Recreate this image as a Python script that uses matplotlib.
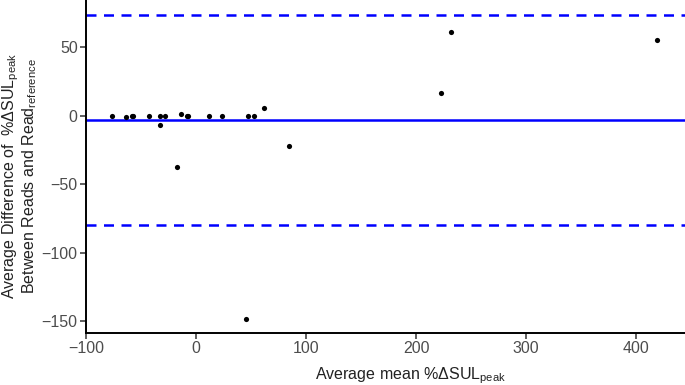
import numpy as np
import matplotlib
matplotlib.use('Agg')
import matplotlib.pyplot as plt

plt.rcParams['font.family'] = ['Liberation Sans', 'DejaVu Sans']
plt.rcParams['mathtext.fontset'] = 'custom'
plt.rcParams['mathtext.rm'] = 'Liberation Sans'

# Bland-Altman points: mean of reads vs difference
mean_pct = [-76, -64, -58, -57, -43, -33, -33, -28, -17.5, -14, -8, -7,
            12, 24, 47.5, 53, 62, 85, 45.5, 222.5, 231.5, 419.5]
diff_pct = [0, -0.7, 0, 0, 0, 0, -6.8, 0, -37.5, 1.2, -0.5, 0,
            0, 0, 0, 0, 5.6, -22, -148.5, 16.6, 61.3, 55]

bias = -3.2
loa_upper = 73.5
loa_lower = -79.8

xticks = [-100, 0, 100, 200, 300, 400]
yticks = [50, 0, -50, -100, -150]

fig = plt.figure(figsize=(6.85, 3.85), dpi=100)
ax = fig.add_axes([0.1255, 0.135, 0.8745, 0.865])

ax.axhline(bias, color='#0000FF', lw=1.8, zorder=1)
ax.axhline(loa_upper, color='#0000FF', lw=1.8, ls=(0, (4, 3)), zorder=1)
ax.axhline(loa_lower, color='#0000FF', lw=1.8, ls=(0, (4, 3)), zorder=1)
ax.scatter(mean_pct, diff_pct, s=14, color='black', zorder=2, linewidths=0)

ax.set_xlim(-100, 444.5)
ax.set_ylim(-158.6, 84.5)
ax.set_xticks(xticks)
ax.set_yticks(yticks)
ax.set_xticklabels(['\u2212100', '0', '100', '200', '300', '400'])
ax.set_yticklabels(['50', '0', '\u221250', '\u2212100', '\u2212150'])

for side in ['top', 'right']:
    ax.spines[side].set_visible(False)
for side in ['left', 'bottom']:
    ax.spines[side].set_linewidth(1.4)
    ax.spines[side].set_color('black')
ax.tick_params(axis='both', direction='out', length=4, width=1.1, color='#333333',
               labelcolor='#4d4d4d', labelsize=11.5, pad=2)

# x title sits right of the panel centre in the reference
fig.text(411 / 685, 1 - 376 / 385, 'Average mean %\u0394SUL$_{\\mathrm{peak}}$',
         ha='center', va='center', fontsize=11.5, color='#222222')

# two-line y title, placed line by line
ycen = 1 - 176 / 385
fig.text(11 / 685, ycen, 'Average Difference of  %\u0394SUL$_{\\mathrm{peak}}$', rotation=90,
         ha='center', va='center', fontsize=11.5, color='#222222')
fig.text(29.5 / 685, ycen, 'Between Reads and Read$_{\\mathrm{reference}}$', rotation=90,
         ha='center', va='center', fontsize=11.5, color='#222222')

plt.savefig('out.png', dpi=100)
